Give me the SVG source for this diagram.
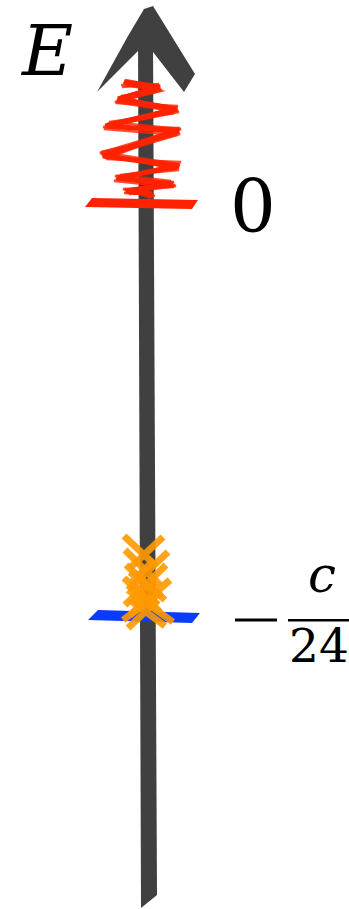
<svg xmlns="http://www.w3.org/2000/svg" width="349" height="909" viewBox="0 0 349 909">
<style>
.axis{fill:#404040}
.zig{fill:none;stroke:#ff2200;stroke-width:2.5;stroke-linejoin:miter;opacity:0.8}
.xo{fill:none;stroke:#ff9900;stroke-width:7;stroke-linecap:butt;opacity:0.9}
.lbl{font-family:"DejaVu Serif","Liberation Serif",serif;fill:#000}
</style>
<g id="axis">
<polygon class="axis" points="138,40 153,40 157,895 141,908"/>
<polygon class="axis" points="144,9 153,6 195,74 184,92 153,52 139,50 97,92 128,36"/>
</g>
<g id="zero-level">
<g id="zigzag">
<polyline class="zig" points="123,83 160,88 117,100 178,110 105,125 178,132 102,155 178,167 118,177 173,183 127,192 152,195"/>
<polyline class="zig" points="125,80 158,86 119,98 176,108 107,124 180,134 104,157 180,165 116,179 175,185 125,190 155,196"/>
<polyline class="zig" points="121,85 162,90 115,102 179,112 103,127 176,130 100,153 176,169 120,175 171,181 129,194 150,193"/>
<polyline class="zig" points="127,84 156,92 121,96 174,113 109,122 181,129 106,159 181,162 114,181 174,187 123,189 153,197"/>
<polyline class="zig" points="122,87 159,84 116,103 178,106 104,129 177,135 101,152 177,164 119,180 174,182 128,190 151,198"/>
<polyline class="zig" points="126,81 161,91 120,101 175,111 108,127 180,128 105,154 179,170 115,176 176,186 124,193 154,194"/>
<polyline class="zig" points="124,82 160,87 118,99 177,109 106,126 179,131 103,156 179,166 117,178 172,184 126,191 152,194" style="stroke-width:5;opacity:1"/>
</g>
<polygon id="zero-bar" fill="#ff2200" points="92,198 198,200 192,209 85,207"/>
</g>
<g id="vacuum-level">
<polygon id="vacuum-bar" fill="#0a3cff" points="98,610 200,613 192,623 88,620"/>
<g id="crosses">
<path class="xo" d="M124,536 L156,566 M163,537 L130,568"/>
<path class="xo" d="M125,550 L160,585 M168,552 L128,590"/>
<path class="xo" d="M126,565 L165,600 M166,565 L125,605"/>
<path class="xo" d="M124,578 L160,612 M170,580 L130,615"/>
<path class="xo" d="M128,590 L173,622 M162,592 L123,620"/>
<path class="xo" d="M130,600 L165,626 M158,600 L128,628"/>
<path class="xo" d="M130,572 L152,590 M154,560 L132,582"/>
<path class="xo" d="M134,585 L158,605 M155,583 L135,606"/>
</g>
</g>
<g id="labels">
<text class="lbl" x="22" y="75" font-size="70" font-style="italic">E</text>
<text class="lbl" x="230" y="232" font-size="72">0</text>
<rect x="235" y="618.5" width="42" height="3" fill="#000"/>
<text class="lbl" x="308" y="592" font-size="50" font-style="italic">c</text>
<rect x="288" y="619" width="61" height="2.5" fill="#000"/>
<text class="lbl" x="289" y="662" font-size="47">24</text>
</g>
</svg>
